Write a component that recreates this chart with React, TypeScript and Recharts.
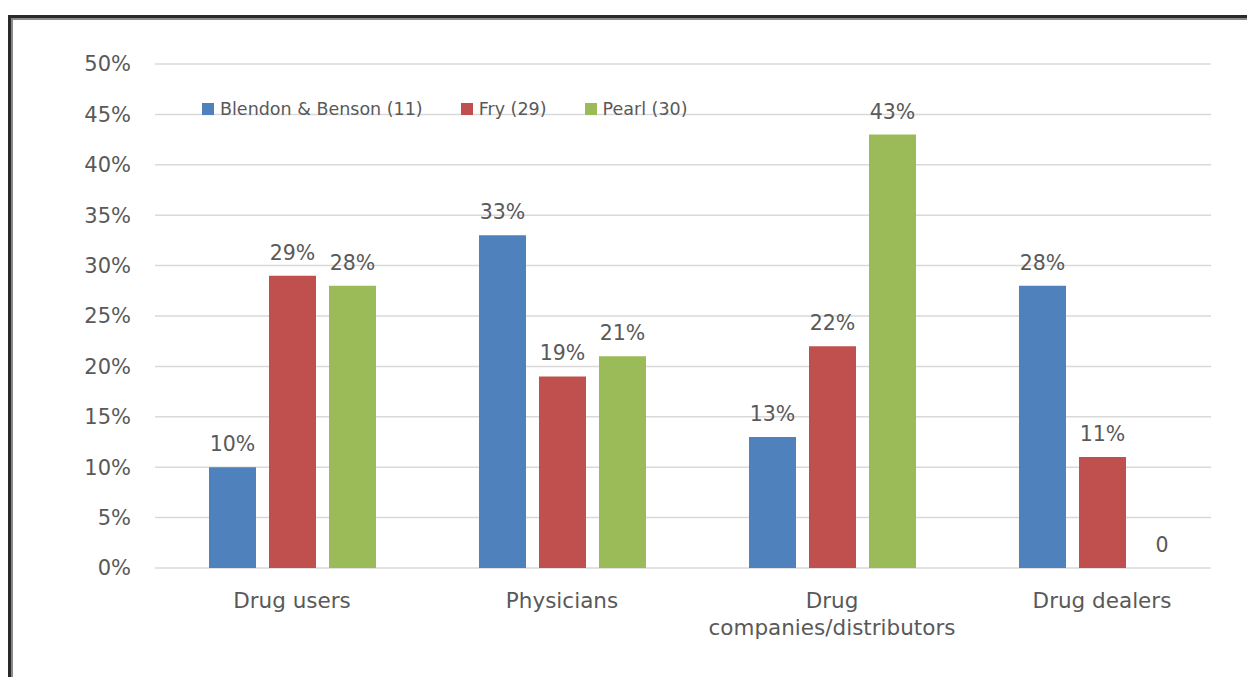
import React from "react";
import { BarChart, Bar, XAxis, YAxis, CartesianGrid, Legend, LabelList, ReferenceDot } from "recharts";

const categories = ["Drug users", "Physicians", "Drug companies/distributors", "Drug dealers"];
const blendonBenson = [10, 33, 13, 28];
const fry = [29, 19, 22, 11];
const pearl = [28, 21, 43, 0];
const yTicks = [0, 5, 10, 15, 20, 25, 30, 35, 40, 45, 50];

const seriesInfo = [
  { key: "bb", name: "Blendon & Benson (11)", color: "#4F81BD", values: blendonBenson },
  { key: "fry", name: "Fry (29)", color: "#C0504D", values: fry },
  { key: "pearl", name: "Pearl (30)", color: "#9BBB59", values: pearl },
];

const data = categories.map((c, i) => ({
  category: c,
  bb: blendonBenson[i],
  fry: fry[i],
  pearl: pearl[i],
}));

const FONT = "'DejaVu Sans', Verdana, sans-serif";
const TEXT = "#595959";
const BAR_SIZE = 47;
const BAR_GAP = 13;

const wrapWords = (s: string, maxChars: number) => {
  const words = s.split(" ");
  const lines: string[] = [];
  let cur = "";
  words.forEach((w) => {
    const next = cur ? cur + " " + w : w;
    if (cur && next.length > maxChars) {
      lines.push(cur);
      cur = w;
    } else {
      cur = next;
    }
  });
  if (cur) lines.push(cur);
  return lines;
};

const CatTick = (props: any) => {
  const { x, y, payload } = props;
  const lines = wrapWords(String(payload.value), 14);
  return (
    <text x={x} y={y} textAnchor="middle" fill={TEXT} fontSize={21.5} fontFamily={FONT}>
      {lines.map((l, i) => (
        <tspan key={i} x={x} dy={i === 0 ? "0.71em" : 27}>
          {l}
        </tspan>
      ))}
    </text>
  );
};

const LegendContent = () => (
  <div style={{ display: "flex", alignItems: "center", fontFamily: FONT, fontSize: 17.5, color: TEXT, whiteSpace: "nowrap" }}>
    {seriesInfo.map((s) => (
      <div key={s.key} style={{ display: "flex", alignItems: "center", marginRight: 38 }}>
        <span style={{ display: "inline-block", width: 12, height: 12, background: s.color, marginRight: 6 }} />
        <span>{s.name}</span>
      </div>
    ))}
  </div>
);

const fmt = (v: any) => (v === 0 ? "0" : `${v}%`);

// zero-valued bars have no height, so their "0" label is placed at the bar slot on the baseline
const zeroLabels: { category: string; seriesIndex: number }[] = [];
seriesInfo.forEach((s, si) => {
  s.values.forEach((v, ci) => {
    if (v === 0) zeroLabels.push({ category: categories[ci], seriesIndex: si });
  });
});

export default function App() {
  return (
    <div style={{ position: "fixed", left: 0, top: 0, width: 1247, height: 677, background: "#fff", overflow: "hidden" }}>
      <div
        style={{
          position: "absolute",
          left: 8,
          top: 15,
          width: 1239,
          height: 662,
          borderTop: "3px solid #2a2a2a",
          borderLeft: "3px solid #2a2a2a",
          boxSizing: "border-box",
        }}
      >
        <div
          style={{
            width: "100%",
            height: "100%",
            borderTop: "2px solid #8a8a8a",
            borderLeft: "2px solid #8a8a8a",
            boxSizing: "border-box",
          }}
        />
      </div>
      <div style={{ position: "absolute", left: 0, top: 0 }}>
        <BarChart
          width={1247}
          height={677}
          data={data}
          margin={{ top: 64, right: 36, bottom: 0, left: 0 }}
          barSize={BAR_SIZE}
          barGap={BAR_GAP}
        >
          <CartesianGrid vertical={false} stroke="#d9d9d9" strokeWidth={1.5} />
          <XAxis
            dataKey="category"
            height={109}
            axisLine={false}
            tickLine={false}
            tickMargin={19}
            interval={0}
            padding={{ left: 2, right: -26 }}
            tick={<CatTick />}
          />
          <YAxis
            width={155}
            domain={[0, 50]}
            ticks={yTicks}
            axisLine={false}
            tickLine={false}
            tickMargin={18}
            tickFormatter={(v: any) => `${v}%`}
            tick={{ fill: TEXT, fontSize: 21, fontFamily: FONT }}
          />
          <Legend
            layout="horizontal"
            verticalAlign="middle"
            align="center"
            content={<LegendContent />}
            wrapperStyle={{ top: 99, left: 202, width: "auto" }}
          />
          {seriesInfo.map((s) => (
            <Bar key={s.key} dataKey={s.key} name={s.name} fill={s.color} isAnimationActive={false}>
              <LabelList
                dataKey={s.key}
                position="top"
                offset={16}
                formatter={fmt}
                fill={TEXT}
                fontSize={20.5}
                fontFamily={FONT}
              />
            </Bar>
          ))}
          {zeroLabels.map((z, i) => (
            <ReferenceDot
              key={i}
              x={z.category}
              y={0}
              r={0}
              fill="none"
              stroke="none"
              ifOverflow="visible"
              label={(p: any) => {
                const vb = p.viewBox || {};
                const cx = (vb.x ?? 0) + (vb.width ?? 0) / 2 + (z.seriesIndex - 1) * (BAR_SIZE + BAR_GAP);
                return (
                  <text x={cx} y={(vb.y ?? 0) - 16} textAnchor="middle" fill={TEXT} fontSize={20.5} fontFamily={FONT}>
                    0
                  </text>
                );
              }}
            />
          ))}
        </BarChart>
      </div>
    </div>
  );
}
